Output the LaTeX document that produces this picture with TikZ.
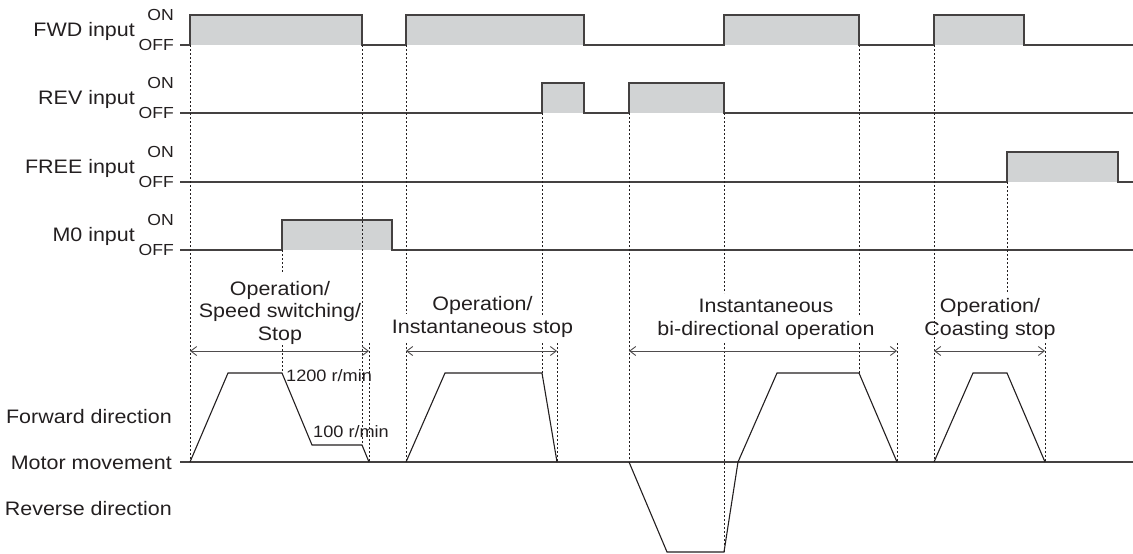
\documentclass[tikz,border=0pt]{standalone}
\usepackage{fontspec}
\setmainfont{Liberation Sans}[FakeStretch=1.1]
\usepackage{xcolor}
\usepackage{tikz}
\usetikzlibrary{arrows.meta}
\definecolor{ink}{HTML}{231F20}
\definecolor{pulsegray}{HTML}{D1D3D4}

\begin{document}
\begin{tikzpicture}[x=1pt, y=-1pt,
  lbl/.style={font=\fontsize{19.5}{22.5}\selectfont, text=ink, inner sep=0pt},
  lvl/.style={font=\fontsize{16}{18}\selectfont, text=ink, inner sep=0pt, anchor=base east},
  note/.style={font=\fontsize{16.5}{19}\selectfont, text=ink, inner sep=0pt, anchor=base west},
  phase/.style={lbl, align=center, anchor=base},
  wave/.style={draw=ink!85, line width=1.3pt},
  pulse/.style={fill=pulsegray},
  prof/.style={draw=ink, line width=1.1pt},
  guide/.style={draw=ink, line width=0.7pt, dash pattern=on 2pt off 2pt},
  span/.style={{Straight Barb[length=6pt, width=9pt]}-{Straight Barb[length=6pt, width=9pt]}, draw=ink!80, line width=0.9pt}
]
  \useasboundingbox (0,0) rectangle (1133,554);

  % input rows
  \foreach \sig/\txt/\yoff in {fwd/FWD input/45, rev/REV input/113, free/FREE input/182, mz/M0 input/250} {
    \node[lbl, anchor=base east] (\sig lbl) at (135,\yoff-8.5) {\txt};
    \node[lvl] (\sig on) at (174,\yoff-25) {ON};
    \node[lvl] (\sig off) at (174,\yoff+5) {OFF};
  }

  \fill[pulse] (190,15) rectangle (362,45);
  \fill[pulse] (406,15) rectangle (584,45);
  \fill[pulse] (724,15) rectangle (859,45);
  \fill[pulse] (934,15) rectangle (1024,45);
  \fill[pulse] (542,83) rectangle (584,113);
  \fill[pulse] (629,83) rectangle (724,113);
  \fill[pulse] (1007,152) rectangle (1118,182);
  \fill[pulse] (282,220) rectangle (392,250);

  \draw[wave] (180,45) -- (190,45) -- (190,15) -- (362,15) -- (362,45) -- (406,45) -- (406,15) -- (584,15) -- (584,45)
    -- (724,45) -- (724,15) -- (859,15) -- (859,45) -- (934,45) -- (934,15) -- (1024,15) -- (1024,45) -- (1133,45);
  \draw[wave] (180,113) -- (542,113) -- (542,83) -- (584,83) -- (584,113) -- (629,113) -- (629,83) -- (724,83) -- (724,113) -- (1133,113);
  \draw[wave] (180,182) -- (1007,182) -- (1007,152) -- (1118,152) -- (1118,182) -- (1133,182);
  \draw[wave] (180,250) -- (282,250) -- (282,220) -- (392,220) -- (392,250) -- (1133,250);

  % timing guides
  \draw[guide] (190,45) -- (190,462);
  \draw[guide] (282,250) -- (282,273);
  \draw[guide] (282,345) -- (282,373);
  \draw[guide] (362,45) -- (362,445);
  \draw[guide] (369,343) -- (369,462);
  \draw[guide] (406,45) -- (406,314);
  \draw[guide] (406,343) -- (406,462);
  \draw[guide] (542,113) -- (542,315);
  \draw[guide] (542,343) -- (542,373);
  \draw[guide] (557,343) -- (557,462);
  \draw[guide] (629,113) -- (629,462);
  \draw[guide] (724,113) -- (724,293);
  \draw[guide] (724,343) -- (724,552);
  \draw[guide] (859,45) -- (859,315);
  \draw[guide] (859,343) -- (859,373);
  \draw[guide] (897,343) -- (897,462);
  \draw[guide] (934,45) -- (934,462);
  \draw[guide] (1007,182) -- (1007,292);
  \draw[guide] (1045,343) -- (1045,462);

  % phases
  \node[phase] (ph1) at (280,340) {Operation/\\Speed switching/\\Stop};
  \node[phase] (ph2) at (482.5,333) {Operation/\\Instantaneous stop};
  \node[phase] (ph3) at (766,335) {Instantaneous\\bi-directional operation};
  \node[phase] (ph4) at (990,335) {Operation/\\Coasting stop};

  \draw[span] (190,351) -- (369,351);
  \draw[span] (406,351) -- (557,351);
  \draw[span] (629,351) -- (897,351);
  \draw[span] (934,351) -- (1045,351);

  % motor movement
  \node[lbl, anchor=base east] (fwddir) at (172,423) {Forward direction};
  \node[lbl, anchor=base east] (motor) at (172,469) {Motor movement};
  \node[lbl, anchor=base east] (revdir) at (172,515) {Reverse direction};

  \draw[wave] (180,462) -- (1133,462);
  \draw[prof] (190,462) -- (228,373) -- (282,373) -- (312,445) -- (362,445) -- (369,462);
  \draw[prof] (406,462) -- (445,373) -- (542,373) -- (557,462);
  \draw[prof] (629,462) -- (667,552) -- (724,552) -- (738,462) -- (777,373) -- (859,373) -- (897,462);
  \draw[prof] (934,462) -- (973,373) -- (1007,373) -- (1045,462);

  \node[note] (fast) at (286,381.7) {1200 r/min};
  \node[note] (slow) at (313,437) {100 r/min};
\end{tikzpicture}
\end{document}
